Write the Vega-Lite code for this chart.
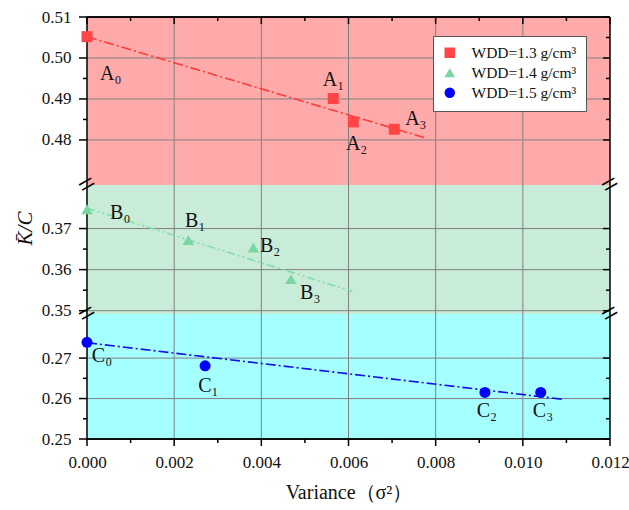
{
  "$schema": "https://vega.github.io/schema/vega-lite/v6.json",
  "background": "white",
  "padding": {"left": 14, "top": 8, "right": 19, "bottom": 4},
  "spacing": 0,
  "bounds": "flush",
  "config": {
    "font": "Liberation Serif",
    "view": {"stroke": null, "fill": null},
    "concat": {"spacing": 0},
    "axis": {"grid": false, "labelFlush": false}
  },
  "datasets": {
    "bands": [
      {"p": "A", "x0": 0, "x1": 0.012, "lo": 0.469, "hi": 0.51},
      {"p": "B", "x0": 0, "x1": 0.012, "lo": 0.3492, "hi": 0.3806},
      {"p": "C", "x0": 0, "x1": 0.012, "lo": 0.25, "hi": 0.2809}
    ],
    "points": [
      {"p": "A", "g": "WDD=1.3 g/cm³", "x": 0, "y": 0.5052},
      {"p": "A", "g": "WDD=1.3 g/cm³", "x": 0.00565, "y": 0.4901},
      {"p": "A", "g": "WDD=1.3 g/cm³", "x": 0.00611, "y": 0.4844},
      {"p": "A", "g": "WDD=1.3 g/cm³", "x": 0.00705, "y": 0.4826},
      {"p": "B", "g": "WDD=1.4 g/cm³", "x": 0, "y": 0.3747},
      {"p": "B", "g": "WDD=1.4 g/cm³", "x": 0.002325, "y": 0.3672},
      {"p": "B", "g": "WDD=1.4 g/cm³", "x": 0.003816, "y": 0.3654},
      {"p": "B", "g": "WDD=1.4 g/cm³", "x": 0.00468, "y": 0.3577},
      {"p": "C", "g": "WDD=1.5 g/cm³", "x": 0, "y": 0.2739},
      {"p": "C", "g": "WDD=1.5 g/cm³", "x": 0.00271, "y": 0.2681},
      {"p": "C", "g": "WDD=1.5 g/cm³", "x": 0.00913, "y": 0.2615},
      {"p": "C", "g": "WDD=1.5 g/cm³", "x": 0.01041, "y": 0.2615}
    ],
    "fits": [
      {"p": "A", "x": 0, "y": 0.5052}, {"p": "A", "x": 0.00773, "y": 0.4806},
      {"p": "B", "x": 0, "y": 0.3750}, {"p": "B", "x": 0.00609, "y": 0.3547},
      {"p": "C", "x": 0, "y": 0.2738}, {"p": "C", "x": 0.01093, "y": 0.2598}
    ],
    "labels": [
      {"p": "A", "t": "A₀", "x": 0.0003, "y": 0.4961},
      {"p": "A", "t": "A₁", "x": 0.00541, "y": 0.4946},
      {"p": "A", "t": "A₂", "x": 0.00594, "y": 0.4790},
      {"p": "A", "t": "A₃", "x": 0.0073, "y": 0.4852},
      {"p": "B", "t": "B₀", "x": 0.00053, "y": 0.3739},
      {"p": "B", "t": "B₁", "x": 0.00225, "y": 0.3719},
      {"p": "B", "t": "B₂", "x": 0.00397, "y": 0.3658},
      {"p": "B", "t": "B₃", "x": 0.00489, "y": 0.3543},
      {"p": "C", "t": "C₀", "x": 0.00011, "y": 0.2706},
      {"p": "C", "t": "C₁", "x": 0.00255, "y": 0.2630},
      {"p": "C", "t": "C₂", "x": 0.00894, "y": 0.2568},
      {"p": "C", "t": "C₃", "x": 0.01023, "y": 0.2568}
    ],
    "breaks": [
      {"p": "B", "t": "=", "x": 0, "y": 0.3806},
      {"p": "B", "t": "=", "x": 0.012, "y": 0.3806},
      {"p": "C", "t": "=", "x": 0, "y": 0.2809},
      {"p": "C", "t": "=", "x": 0.012, "y": 0.2809}
    ],
    "vgrid": [{"x": 0.002}, {"x": 0.004}, {"x": 0.006}, {"x": 0.008}, {"x": 0.01}],
    "hgrid": [
      {"p": "A", "y": 0.48}, {"p": "A", "y": 0.49}, {"p": "A", "y": 0.50},
      {"p": "B", "y": 0.35}, {"p": "B", "y": 0.36}, {"p": "B", "y": 0.37},
      {"p": "C", "y": 0.26}, {"p": "C", "y": 0.27}
    ],
    "frame": [{"x": 0}, {"x": 0.012}],
    "xticks": [
      {"x": 0, "k": "M"}, {"x": 0.001, "k": "m"}, {"x": 0.002, "k": "M"}, {"x": 0.003, "k": "m"},
      {"x": 0.004, "k": "M"}, {"x": 0.005, "k": "m"}, {"x": 0.006, "k": "M"}, {"x": 0.007, "k": "m"},
      {"x": 0.008, "k": "M"}, {"x": 0.009, "k": "m"}, {"x": 0.01, "k": "M"}, {"x": 0.011, "k": "m"},
      {"x": 0.012, "k": "M"}
    ],
    "yticks": [
      {"p": "A", "y": 0.48, "k": "M"}, {"p": "A", "y": 0.485, "k": "m"}, {"p": "A", "y": 0.49, "k": "M"},
      {"p": "A", "y": 0.495, "k": "m"}, {"p": "A", "y": 0.5, "k": "M"}, {"p": "A", "y": 0.505, "k": "m"},
      {"p": "A", "y": 0.51, "k": "M"},
      {"p": "B", "y": 0.35, "k": "M"}, {"p": "B", "y": 0.355, "k": "m"}, {"p": "B", "y": 0.36, "k": "M"},
      {"p": "B", "y": 0.365, "k": "m"}, {"p": "B", "y": 0.37, "k": "M"},
      {"p": "C", "y": 0.25, "k": "M"}, {"p": "C", "y": 0.255, "k": "m"}, {"p": "C", "y": 0.26, "k": "M"},
      {"p": "C", "y": 0.265, "k": "m"}, {"p": "C", "y": 0.27, "k": "M"}
    ]
  },
  "resolve": {"scale": {"color": "independent", "shape": "independent"}},
  "vconcat": [
    {
      "width": 523, "height": 168,
      "resolve": {"axis": {"x": "independent", "y": "independent"}},
      "layer": [
        {
          "data": {"name": "bands"},
          "transform": [{"filter": "datum.p === 'A'"}],
          "mark": {"type": "rect", "color": "#FFAAAA", "opacity": 1},
          "encoding": {
            "x": {"field": "x0", "type": "quantitative", "scale": {"domain": [0, 0.012], "nice": false}, "axis": null},
            "x2": {"field": "x1"},
            "y": {"field": "lo", "type": "quantitative", "scale": {"domain": [0.469, 0.51], "nice": false, "zero": false}, "axis": null},
            "y2": {"field": "hi"}
          }
        },
        {
          "data": {"name": "vgrid"},
          "mark": {"type": "rule", "color": "#808080", "strokeWidth": 1},
          "encoding": {"x": {"field": "x", "type": "quantitative", "axis": null}}
        },
        {
          "data": {"name": "hgrid"},
          "transform": [{"filter": "datum.p === 'A'"}],
          "mark": {"type": "rule", "color": "#808080", "strokeWidth": 1},
          "encoding": {
            "y": {"field": "y", "type": "quantitative",
              "axis": {"orient": "left", "title": null, "values": [0.48, 0.49, 0.5, 0.51], "format": ".2f",
                "labelFont": "Liberation Serif", "labelFontSize": 17, "labelColor": "#111", "labelPadding": 16,
                "domain": false, "ticks": false, "grid": false}}
          }
        },
        {
          "data": {"name": "fits"},
          "transform": [{"filter": "datum.p === 'A'"}],
          "mark": {"type": "line", "color": "#FF3B3B", "strokeDash": [10, 3, 2, 3], "strokeWidth": 1.6},
          "encoding": {
            "x": {"field": "x", "type": "quantitative", "axis": null},
            "y": {"field": "y", "type": "quantitative", "axis": null}
          }
        },
        {
          "data": {"name": "frame"},
          "mark": {"type": "rule", "color": "#000", "strokeWidth": 1.5},
          "encoding": {"x": {"field": "x", "type": "quantitative", "axis": null}}
        },
        {
          "data": {"name": "frame"},
          "mark": {"type": "rule", "color": "#000", "strokeWidth": 1.5},
          "encoding": {"y": {"datum": 0.51, "type": "quantitative", "axis": null}}
        },
        {
          "data": {"name": "xticks"},
          "transform": [{"filter": "datum.k === 'M'"}],
          "mark": {"type": "rule", "color": "#000", "strokeWidth": 1.5, "y2Offset": 7},
          "encoding": {
            "x": {"field": "x", "type": "quantitative", "axis": null},
            "y": {"datum": 0.51, "type": "quantitative", "axis": null},
            "y2": {"datum": 0.51}
          }
        },
        {
          "data": {"name": "xticks"},
          "transform": [{"filter": "datum.k === 'm'"}],
          "mark": {"type": "rule", "color": "#000", "strokeWidth": 1.5, "y2Offset": 4},
          "encoding": {
            "x": {"field": "x", "type": "quantitative", "axis": null},
            "y": {"datum": 0.51, "type": "quantitative", "axis": null},
            "y2": {"datum": 0.51}
          }
        },
        {
          "data": {"name": "yticks"},
          "transform": [{"filter": "datum.p === 'A' && datum.k === 'M'"}],
          "mark": {"type": "rule", "color": "#000", "strokeWidth": 1.5, "x2Offset": -8},
          "encoding": {
            "y": {"field": "y", "type": "quantitative", "axis": null},
            "x": {"datum": 0, "type": "quantitative", "axis": null},
            "x2": {"datum": 0}
          }
        },
        {
          "data": {"name": "yticks"},
          "transform": [{"filter": "datum.p === 'A' && datum.k === 'm'"}],
          "mark": {"type": "rule", "color": "#000", "strokeWidth": 1.5, "x2Offset": -4},
          "encoding": {
            "y": {"field": "y", "type": "quantitative", "axis": null},
            "x": {"datum": 0, "type": "quantitative", "axis": null},
            "x2": {"datum": 0}
          }
        },
        {
          "data": {"name": "yticks"},
          "transform": [{"filter": "datum.p === 'A' && datum.k === 'M'"}],
          "mark": {"type": "rule", "color": "#000", "strokeWidth": 1.5, "x2Offset": -7},
          "encoding": {
            "y": {"field": "y", "type": "quantitative", "axis": null},
            "x": {"datum": 0.012, "type": "quantitative", "axis": null},
            "x2": {"datum": 0.012}
          }
        },
        {
          "data": {"name": "yticks"},
          "transform": [{"filter": "datum.p === 'A' && datum.k === 'm'"}],
          "mark": {"type": "rule", "color": "#000", "strokeWidth": 1.5, "x2Offset": -4},
          "encoding": {
            "y": {"field": "y", "type": "quantitative", "axis": null},
            "x": {"datum": 0.012, "type": "quantitative", "axis": null},
            "x2": {"datum": 0.012}
          }
        },
        {
          "data": {"name": "points"},
          "transform": [{"filter": "datum.p === 'A'"}],
          "mark": {"type": "point", "filled": true, "opacity": 1, "size": 121},
          "encoding": {
            "x": {"field": "x", "type": "quantitative", "axis": null},
            "y": {"field": "y", "type": "quantitative", "axis": null},
            "color": {"field": "g", "type": "nominal",
              "scale": {"domain": ["WDD=1.3 g/cm³", "WDD=1.4 g/cm³", "WDD=1.5 g/cm³"], "range": ["#FF4545", "#7AD6A0", "#0000FF"]},
              "legend": {"orient": "none", "legendX": 346, "legendY": 19, "title": null, "fillColor": "white", "strokeColor": "#555",
                "padding": 9, "labelFont": "Liberation Serif", "labelFontSize": 15.5, "labelColor": "#111", "symbolSize": 110,
                "labelOffset": 14, "rowPadding": 3, "symbolStrokeWidth": 0}},
            "shape": {"field": "g", "type": "nominal",
              "scale": {"domain": ["WDD=1.3 g/cm³", "WDD=1.4 g/cm³", "WDD=1.5 g/cm³"], "range": ["square", "triangle-up", "circle"]}}
          }
        },
        {
          "data": {"name": "labels"},
          "transform": [{"filter": "datum.p === 'A'"}],
          "mark": {"type": "text", "align": "left", "baseline": "middle", "fontSize": 20, "font": "Liberation Serif", "color": "#111"},
          "encoding": {
            "x": {"field": "x", "type": "quantitative", "axis": null},
            "y": {"field": "y", "type": "quantitative", "axis": null},
            "text": {"field": "t"}
          }
        }
      ]
    },
    {
      "width": 523, "height": 129,
      "resolve": {"axis": {"x": "independent", "y": "independent"}},
      "layer": [
        {
          "data": {"name": "bands"},
          "transform": [{"filter": "datum.p === 'B'"}],
          "mark": {"type": "rect", "color": "#C8ECD8", "opacity": 1},
          "encoding": {
            "x": {"field": "x0", "type": "quantitative", "scale": {"domain": [0, 0.012], "nice": false}, "axis": null},
            "x2": {"field": "x1"},
            "y": {"field": "lo", "type": "quantitative", "scale": {"domain": [0.3492, 0.3806], "nice": false, "zero": false}, "axis": null},
            "y2": {"field": "hi"}
          }
        },
        {
          "data": {"name": "vgrid"},
          "mark": {"type": "rule", "color": "#808080", "strokeWidth": 1},
          "encoding": {"x": {"field": "x", "type": "quantitative", "axis": null}}
        },
        {
          "data": {"name": "hgrid"},
          "transform": [{"filter": "datum.p === 'B'"}],
          "mark": {"type": "rule", "color": "#808080", "strokeWidth": 1},
          "encoding": {
            "y": {"field": "y", "type": "quantitative",
              "axis": {"orient": "left", "title": "K̄/C", "titleFont": "Liberation Serif", "titleFontSize": 21, "titleFontStyle": "italic",
                "titleFontWeight": "normal", "titleColor": "#111", "titlePadding": 6, "titleY": 43,
                "values": [0.35, 0.36, 0.37], "format": ".2f",
                "labelFont": "Liberation Serif", "labelFontSize": 17, "labelColor": "#111", "labelPadding": 16,
                "domain": false, "ticks": false, "grid": false}}
          }
        },
        {
          "data": {"name": "fits"},
          "transform": [{"filter": "datum.p === 'B'"}],
          "mark": {"type": "line", "color": "#86DCA8", "strokeDash": [8, 3, 2, 3, 2, 3], "strokeWidth": 1.6},
          "encoding": {
            "x": {"field": "x", "type": "quantitative", "axis": null},
            "y": {"field": "y", "type": "quantitative", "axis": null}
          }
        },
        {
          "data": {"name": "frame"},
          "mark": {"type": "rule", "color": "#000", "strokeWidth": 1.5},
          "encoding": {"x": {"field": "x", "type": "quantitative", "axis": null}}
        },
        {
          "data": {"name": "yticks"},
          "transform": [{"filter": "datum.p === 'B' && datum.k === 'M'"}],
          "mark": {"type": "rule", "color": "#000", "strokeWidth": 1.5, "x2Offset": -8},
          "encoding": {
            "y": {"field": "y", "type": "quantitative", "axis": null},
            "x": {"datum": 0, "type": "quantitative", "axis": null},
            "x2": {"datum": 0}
          }
        },
        {
          "data": {"name": "yticks"},
          "transform": [{"filter": "datum.p === 'B' && datum.k === 'm'"}],
          "mark": {"type": "rule", "color": "#000", "strokeWidth": 1.5, "x2Offset": -4},
          "encoding": {
            "y": {"field": "y", "type": "quantitative", "axis": null},
            "x": {"datum": 0, "type": "quantitative", "axis": null},
            "x2": {"datum": 0}
          }
        },
        {
          "data": {"name": "yticks"},
          "transform": [{"filter": "datum.p === 'B' && datum.k === 'M'"}],
          "mark": {"type": "rule", "color": "#000", "strokeWidth": 1.5, "x2Offset": -7},
          "encoding": {
            "y": {"field": "y", "type": "quantitative", "axis": null},
            "x": {"datum": 0.012, "type": "quantitative", "axis": null},
            "x2": {"datum": 0.012}
          }
        },
        {
          "data": {"name": "yticks"},
          "transform": [{"filter": "datum.p === 'B' && datum.k === 'm'"}],
          "mark": {"type": "rule", "color": "#000", "strokeWidth": 1.5, "x2Offset": -4},
          "encoding": {
            "y": {"field": "y", "type": "quantitative", "axis": null},
            "x": {"datum": 0.012, "type": "quantitative", "axis": null},
            "x2": {"datum": 0.012}
          }
        },
        {
          "data": {"name": "points"},
          "transform": [{"filter": "datum.p === 'B'"}],
          "mark": {"type": "point", "filled": true, "opacity": 1, "size": 130},
          "encoding": {
            "x": {"field": "x", "type": "quantitative", "axis": null},
            "y": {"field": "y", "type": "quantitative", "axis": null},
            "color": {"field": "g", "type": "nominal",
              "scale": {"domain": ["WDD=1.3 g/cm³", "WDD=1.4 g/cm³", "WDD=1.5 g/cm³"], "range": ["#FF4545", "#7AD6A0", "#0000FF"]}, "legend": null},
            "shape": {"field": "g", "type": "nominal",
              "scale": {"domain": ["WDD=1.3 g/cm³", "WDD=1.4 g/cm³", "WDD=1.5 g/cm³"], "range": ["square", "triangle-up", "circle"]}, "legend": null}
          }
        },
        {
          "data": {"name": "labels"},
          "transform": [{"filter": "datum.p === 'B'"}],
          "mark": {"type": "text", "align": "left", "baseline": "middle", "fontSize": 20, "font": "Liberation Serif", "color": "#111"},
          "encoding": {
            "x": {"field": "x", "type": "quantitative", "axis": null},
            "y": {"field": "y", "type": "quantitative", "axis": null},
            "text": {"field": "t"}
          }
        },
        {
          "data": {"name": "breaks"},
          "transform": [{"filter": "datum.p === 'B'"}],
          "mark": {"type": "text", "align": "center", "baseline": "middle", "fontSize": 30, "angle": 330, "font": "Liberation Serif", "color": "#000"},
          "encoding": {
            "x": {"field": "x", "type": "quantitative", "axis": null},
            "y": {"field": "y", "type": "quantitative", "axis": null},
            "text": {"field": "t"}
          }
        }
      ]
    },
    {
      "width": 523, "height": 125,
      "resolve": {"axis": {"x": "independent", "y": "independent"}},
      "layer": [
        {
          "data": {"name": "bands"},
          "transform": [{"filter": "datum.p === 'C'"}],
          "mark": {"type": "rect", "color": "#A5FEFF", "opacity": 1},
          "encoding": {
            "x": {"field": "x0", "type": "quantitative", "scale": {"domain": [0, 0.012], "nice": false}, "axis": null},
            "x2": {"field": "x1"},
            "y": {"field": "lo", "type": "quantitative", "scale": {"domain": [0.25, 0.2809], "nice": false, "zero": false}, "axis": null},
            "y2": {"field": "hi"}
          }
        },
        {
          "data": {"name": "vgrid"},
          "mark": {"type": "rule", "color": "#808080", "strokeWidth": 1},
          "encoding": {
            "x": {"field": "x", "type": "quantitative",
              "axis": {"orient": "bottom", "title": "Variance（σ²）", "titleFont": "Liberation Serif", "titleFontSize": 20,
                "titleFontWeight": "normal", "titleColor": "#111", "titlePadding": 12,
                "labelFont": "Liberation Serif", "labelFontSize": 17, "labelColor": "#111", "labelPadding": 15, "labelFlush": false,
                "domain": false, "ticks": false, "grid": false,
                "values": [0, 0.002, 0.004, 0.006, 0.008, 0.01, 0.012], "format": ".3f"}}
          }
        },
        {
          "data": {"name": "hgrid"},
          "transform": [{"filter": "datum.p === 'C'"}],
          "mark": {"type": "rule", "color": "#808080", "strokeWidth": 1},
          "encoding": {
            "y": {"field": "y", "type": "quantitative",
              "axis": {"orient": "left", "title": null, "values": [0.25, 0.26, 0.27], "format": ".2f",
                "labelFont": "Liberation Serif", "labelFontSize": 17, "labelColor": "#111", "labelPadding": 16,
                "domain": false, "ticks": false, "grid": false}}
          }
        },
        {
          "data": {"name": "fits"},
          "transform": [{"filter": "datum.p === 'C'"}],
          "mark": {"type": "line", "color": "#1212E6", "strokeDash": [10, 3, 2, 3], "strokeWidth": 1.6},
          "encoding": {
            "x": {"field": "x", "type": "quantitative", "axis": null},
            "y": {"field": "y", "type": "quantitative", "axis": null}
          }
        },
        {
          "data": {"name": "frame"},
          "mark": {"type": "rule", "color": "#000", "strokeWidth": 1.5},
          "encoding": {"x": {"field": "x", "type": "quantitative", "axis": null}}
        },
        {
          "data": {"name": "frame"},
          "mark": {"type": "rule", "color": "#000", "strokeWidth": 1.5},
          "encoding": {"y": {"datum": 0.25, "type": "quantitative", "axis": null}}
        },
        {
          "data": {"name": "xticks"},
          "transform": [{"filter": "datum.k === 'M'"}],
          "mark": {"type": "rule", "color": "#000", "strokeWidth": 1.5, "y2Offset": 7},
          "encoding": {
            "x": {"field": "x", "type": "quantitative", "axis": null},
            "y": {"datum": 0.25, "type": "quantitative", "axis": null},
            "y2": {"datum": 0.25}
          }
        },
        {
          "data": {"name": "xticks"},
          "transform": [{"filter": "datum.k === 'm'"}],
          "mark": {"type": "rule", "color": "#000", "strokeWidth": 1.5, "y2Offset": 4},
          "encoding": {
            "x": {"field": "x", "type": "quantitative", "axis": null},
            "y": {"datum": 0.25, "type": "quantitative", "axis": null},
            "y2": {"datum": 0.25}
          }
        },
        {
          "data": {"name": "yticks"},
          "transform": [{"filter": "datum.p === 'C' && datum.k === 'M'"}],
          "mark": {"type": "rule", "color": "#000", "strokeWidth": 1.5, "x2Offset": -8},
          "encoding": {
            "y": {"field": "y", "type": "quantitative", "axis": null},
            "x": {"datum": 0, "type": "quantitative", "axis": null},
            "x2": {"datum": 0}
          }
        },
        {
          "data": {"name": "yticks"},
          "transform": [{"filter": "datum.p === 'C' && datum.k === 'm'"}],
          "mark": {"type": "rule", "color": "#000", "strokeWidth": 1.5, "x2Offset": -4},
          "encoding": {
            "y": {"field": "y", "type": "quantitative", "axis": null},
            "x": {"datum": 0, "type": "quantitative", "axis": null},
            "x2": {"datum": 0}
          }
        },
        {
          "data": {"name": "yticks"},
          "transform": [{"filter": "datum.p === 'C' && datum.k === 'M'"}],
          "mark": {"type": "rule", "color": "#000", "strokeWidth": 1.5, "x2Offset": -7},
          "encoding": {
            "y": {"field": "y", "type": "quantitative", "axis": null},
            "x": {"datum": 0.012, "type": "quantitative", "axis": null},
            "x2": {"datum": 0.012}
          }
        },
        {
          "data": {"name": "yticks"},
          "transform": [{"filter": "datum.p === 'C' && datum.k === 'm'"}],
          "mark": {"type": "rule", "color": "#000", "strokeWidth": 1.5, "x2Offset": -4},
          "encoding": {
            "y": {"field": "y", "type": "quantitative", "axis": null},
            "x": {"datum": 0.012, "type": "quantitative", "axis": null},
            "x2": {"datum": 0.012}
          }
        },
        {
          "data": {"name": "points"},
          "transform": [{"filter": "datum.p === 'C'"}],
          "mark": {"type": "point", "filled": true, "opacity": 1, "size": 121},
          "encoding": {
            "x": {"field": "x", "type": "quantitative", "axis": null},
            "y": {"field": "y", "type": "quantitative", "axis": null},
            "color": {"field": "g", "type": "nominal",
              "scale": {"domain": ["WDD=1.3 g/cm³", "WDD=1.4 g/cm³", "WDD=1.5 g/cm³"], "range": ["#FF4545", "#7AD6A0", "#0000FF"]}, "legend": null},
            "shape": {"field": "g", "type": "nominal",
              "scale": {"domain": ["WDD=1.3 g/cm³", "WDD=1.4 g/cm³", "WDD=1.5 g/cm³"], "range": ["square", "triangle-up", "circle"]}, "legend": null}
          }
        },
        {
          "data": {"name": "labels"},
          "transform": [{"filter": "datum.p === 'C'"}],
          "mark": {"type": "text", "align": "left", "baseline": "middle", "fontSize": 20, "font": "Liberation Serif", "color": "#111"},
          "encoding": {
            "x": {"field": "x", "type": "quantitative", "axis": null},
            "y": {"field": "y", "type": "quantitative", "axis": null},
            "text": {"field": "t"}
          }
        },
        {
          "data": {"name": "breaks"},
          "transform": [{"filter": "datum.p === 'C'"}],
          "mark": {"type": "text", "align": "center", "baseline": "middle", "fontSize": 30, "angle": 330, "font": "Liberation Serif", "color": "#000"},
          "encoding": {
            "x": {"field": "x", "type": "quantitative", "axis": null},
            "y": {"field": "y", "type": "quantitative", "axis": null},
            "text": {"field": "t"}
          }
        }
      ]
    }
  ]
}
